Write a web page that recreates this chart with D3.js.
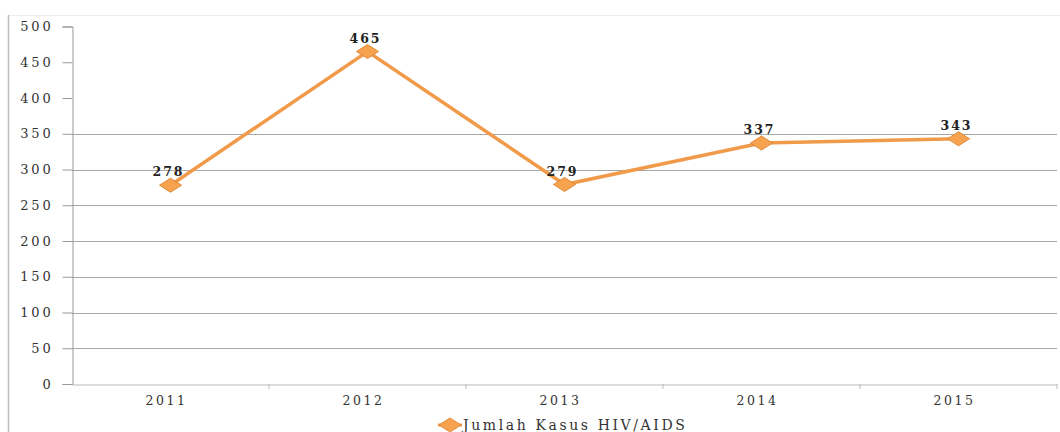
<!DOCTYPE html>
<html><head><meta charset="utf-8">
<script src="https://cdn.jsdelivr.net/npm/d3@7"></script>
<style>body{margin:0;background:#fff}svg{display:block}</style>
</head><body>
<script>
const years = ["2011","2012","2013","2014","2015"];
const cases = [278,465,279,337,343];
const yTicks = [0,50,100,150,200,250,300,350,400,450,500];
const gridTicks = [50,100,150,200,250,300,350];
const seriesName = "Jumlah Kasus HIV/AIDS";

const W=1060,H=432;
const svg=d3.select("body").append("svg").attr("width",W).attr("height",H);
const font="'DejaVu Serif', serif";
const m={l:72,r:3,t:26.5,b:48};
const x=d3.scaleBand().domain(years).range([m.l,W-m.r]);
const y=d3.scaleLinear().domain([0,500]).range([H-m.b,m.t]);

// frame
svg.append("line").attr("x1",8).attr("x2",W).attr("y1",15.5).attr("y2",15.5).attr("stroke","#eee");
svg.append("line").attr("x1",8.5).attr("x2",8.5).attr("y1",15).attr("y2",H).attr("stroke","#bbb").attr("stroke-width",1.5);

// gridlines
svg.append("g").selectAll("line").data(gridTicks).join("line")
  .attr("x1",m.l).attr("x2",W-m.r).attr("y1",d=>Math.round(y(d))+0.5).attr("y2",d=>Math.round(y(d))+0.5)
  .attr("stroke","#a8a8a8");

// y axis
const ya=svg.append("g").attr("transform",`translate(${m.l+0.5},0)`)
  .call(d3.axisLeft(y).tickValues(yTicks).tickSize(10).tickPadding(9));
ya.select(".domain").attr("stroke","#999");
ya.selectAll(".tick line").attr("stroke","#999");
ya.selectAll("text").attr("font-family",font).attr("font-size",13).attr("letter-spacing","2.8px").attr("fill","#333");

// x axis
const xa=svg.append("g").attr("transform",`translate(0,${y(0)+0.5})`)
  .call(d3.axisBottom(x).tickSize(0).tickPadding(12));
xa.select(".domain").attr("stroke","#bbb");
xa.selectAll("text").attr("font-family",font).attr("font-size",12.5).attr("letter-spacing","2.5px").attr("fill","#333").attr("dx",-4);
svg.append("g").selectAll("line").data(years.slice(1).concat(["end"])).join("line")
  .attr("x1",(d,i)=>d==="end"?W-m.r:x(d)).attr("x2",(d,i)=>d==="end"?W-m.r:x(d))
  .attr("y1",y(0)).attr("y2",y(0)+5).attr("stroke","#bbb");

const cx=d=>x(d)+x.bandwidth()/2;
const data=years.map((d,i)=>({year:d,v:cases[i]}));

svg.append("path").datum(data)
  .attr("d",d3.line().x(d=>cx(d.year)).y(d=>y(d.v)))
  .attr("fill","none").attr("stroke","#F09A4A").attr("stroke-width",3.5);

const diamond="M-11,0L0,-7L11,0L0,7Z";
svg.append("g").selectAll("path").data(data).join("path")
  .attr("d",diamond).attr("transform",d=>`translate(${cx(d.year)},${y(d.v)})`)
  .attr("fill","#F7A24F").attr("stroke","#E08A3A").attr("stroke-width",1);

svg.append("g").selectAll("text").data(data).join("text")
  .attr("x",d=>cx(d.year)-2).attr("y",d=>y(d.v)-9)
  .attr("text-anchor","middle").attr("font-family",font).attr("font-size",12.5).attr("font-weight","bold")
  .attr("letter-spacing","2px").attr("fill","#222").text(d=>d.v);

// legend
const lg=svg.append("g").attr("transform","translate(450,425)");
lg.append("line").attr("x1",-12).attr("x2",12).attr("y1",0).attr("y2",0).attr("stroke","#F09A4A").attr("stroke-width",3);
lg.append("path").attr("d",diamond).attr("fill","#F7A24F").attr("stroke","#E08A3A");
lg.append("text").attr("x",13).attr("y",5).attr("font-family",font).attr("font-size",14).attr("letter-spacing","2.6px").attr("fill","#333").text(seriesName);
</script>
</body></html>
